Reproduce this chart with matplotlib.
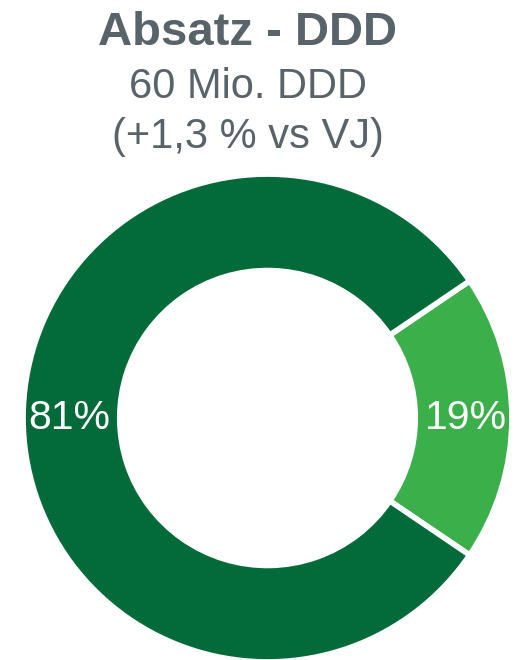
import matplotlib
matplotlib.use("Agg")
import matplotlib.pyplot as plt

plt.rcParams['font.family'] = ['Liberation Sans', 'DejaVu Sans']

# data
labels = ["Anteil B", "Anteil A"]
shares = [19, 81]
colors = ["#3AAF4A", "#036B3A"]
title = "Absatz - DDD"
subtitle = ["60 Mio. DDD", "(+1,3 % vs VJ)"]
gray = "#59636A"

W, H = 515, 660
fig = plt.figure(figsize=(W / 100, H / 100), dpi=100)
fig.patch.set_facecolor("white")

# donut area in pixels (left, top, right, bottom)
l, t, r, b = 26, 177, 509, 659
ax = fig.add_axes([l / W, 1 - b / H, (r - l) / W, (b - t) / H])

start = -shares[0] / 100 * 360 / 2
wedges, texts, autotexts = ax.pie(
    shares, colors=colors, startangle=start, counterclock=True,
    radius=1.012, pctdistance=0.81,
    autopct=lambda p: f"{p:.0f}%",
    wedgeprops=dict(width=0.40, edgecolor="white", linewidth=4),
    textprops=dict(color="white", fontsize=29.5),
)
ax.set_xlim(-1, 1)
ax.set_ylim(-1, 1)
ax.set_aspect("auto")
ax.axis("off")

cx = 248 / W
fig.text(cx, 1 - 45 / H, title, ha="center", va="baseline",
         fontsize=34, fontweight="bold", color=gray)
fig.text(cx, 1 - 98 / H, subtitle[0], ha="center", va="baseline",
         fontsize=30, color=gray)
fig.text(cx, 1 - 148 / H, subtitle[1], ha="center", va="baseline",
         fontsize=30, color=gray)

fig.savefig("out.png", dpi=100, facecolor="white")
